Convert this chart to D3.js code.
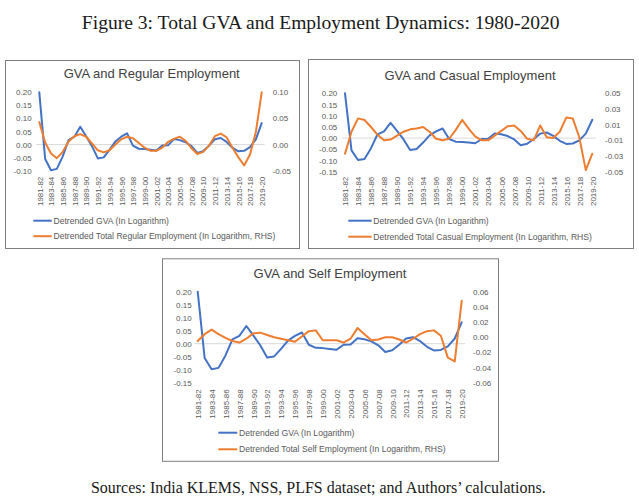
<!DOCTYPE html>
<html>
<head>
<meta charset="utf-8">
<script src="https://cdn.jsdelivr.net/npm/d3@7"></script>
<style>
  html, body { margin: 0; padding: 0; background: #ffffff; }
  svg { display: block; }
</style>
</head>
<body>
<svg id="chart" width="639" height="497"></svg>
<script>
// ---------------- DATA ----------------
const years = ["1981-82","1982-83","1983-84","1984-85","1985-86","1986-87","1987-88","1988-89","1989-90","1990-91",
  "1991-92","1992-93","1993-94","1994-95","1995-96","1996-97","1997-98","1998-99","1999-00","2000-01",
  "2001-02","2002-03","2003-04","2004-05","2005-06","2006-07","2007-08","2008-09","2009-10","2010-11",
  "2011-12","2012-13","2013-14","2014-15","2015-16","2016-17","2017-18","2018-19","2019-20"];

const gva = [0.200, -0.055, -0.098, -0.093, -0.045, 0.017, 0.030, 0.068, 0.032, -0.006,
  -0.053, -0.049, -0.020, 0.012, 0.030, 0.043, -0.004, -0.016, -0.017, -0.020,
  -0.023, -0.004, -0.003, 0.021, 0.017, 0.009, -0.006, -0.032, -0.025, -0.004,
  0.020, 0.025, 0.010, -0.012, -0.026, -0.024, -0.010, 0.020, 0.082];

const regularEmp = [0.043, 0.004, -0.017, -0.026, -0.014, 0.006, 0.016, 0.020, 0.015, 0.002,
  -0.011, -0.015, -0.011, 0.000, 0.010, 0.015, 0.012, 0.003, -0.006, -0.012,
  -0.012, -0.006, 0.005, 0.011, 0.015, 0.007, -0.007, -0.018, -0.014, -0.002,
  0.016, 0.021, 0.014, -0.006, -0.024, -0.040, -0.019, 0.024, 0.100];

const casualEmp = [-0.027, 0.001, 0.018, 0.016, 0.007, -0.003, -0.010, -0.009, -0.004, 0.001,
  0.004, 0.005, 0.007, 0.001, -0.008, -0.010, -0.008, 0.003, 0.016, 0.005,
  -0.005, -0.010, -0.010, -0.004, 0.002, 0.008, 0.009, 0.002, -0.008, -0.010,
  0.009, -0.006, -0.007, 0.001, 0.019, 0.018, -0.006, -0.048, -0.027];

const selfEmp = [-0.005, 0.004, 0.010, 0.004, -0.001, -0.005, -0.007, -0.002, 0.005, 0.006,
  0.003, 0.000, -0.002, -0.004, -0.006, 0.001, 0.008, 0.009, -0.004, -0.004,
  -0.004, -0.007, -0.002, 0.012, 0.004, -0.004, -0.003, 0.000, 0.000, -0.003,
  -0.007, -0.002, 0.004, 0.008, 0.009, 0.002, -0.027, -0.032, 0.048];

const leftTicks1 = [0.20, 0.15, 0.10, 0.05, 0.00, -0.05, -0.10];
const rightTicks1 = [0.10, 0.05, 0.00, -0.05];
const leftTicks23 = [0.20, 0.15, 0.10, 0.05, 0.00, -0.05, -0.10, -0.15];
const rightTicks2 = [0.05, 0.03, 0.01, -0.01, -0.03, -0.05];
const rightTicks3 = [0.06, 0.04, 0.02, 0.00, -0.02, -0.04, -0.06];

const panelTitles = ["GVA and Regular Employment", "GVA and Casual Employment", "GVA and Self Employment"];
const legendGva = "Detrended GVA (In Logarithm)";
const legendEmp = ["Detrended Total Regular Employment (In Logarithm, RHS)",
  "Detrended Total Casual Employment (In Logarithm, RHS)",
  "Detrended Total Self Employment (In Logarithm, RHS)"];
const figureTitle = "Figure 3: Total GVA and Employment Dynamics: 1980-2020";
const sourceText = "Sources: India KLEMS, NSS, PLFS dataset; and Authors\u2019 calculations.";

// ---------------- STYLE ----------------
const BLUE = "#4472C4", ORANGE = "#ED7D31";
const SANS = "'Liberation Sans', Arial, Helvetica, sans-serif";
const SERIF = "'Liberation Serif', 'Times New Roman', serif";
const fmt = d3.formatLocale({decimal: ".", thousands: ",", grouping: [3], currency: ["", ""], minus: "-"}).format(".2f");

const svg = d3.select("#chart");

function fitText(sel, target) {
  const w = sel.node().getComputedTextLength();
  const fs = parseFloat(sel.attr("font-size"));
  if (w > 0) sel.attr("font-size", (fs * target / w).toFixed(2));
}

const t = svg.append("text").attr("x", 320.7).attr("y", 29).attr("text-anchor", "middle")
  .attr("font-family", SERIF).attr("font-size", 17).attr("fill", "#1a1a1a").text(figureTitle);
fitText(t, 478);

const s = svg.append("text").attr("x", 318.3).attr("y", 493).attr("text-anchor", "middle")
  .attr("font-family", SERIF).attr("font-size", 15).attr("fill", "#1a1a1a").text(sourceText);
fitText(s, 455);

// ---------------- PANELS ----------------
const panels = [
  { box: [5, 60, 294, 188], xr: [39.3, 261.7], yr: [170.7, 92.3],
    left: [-0.10, 0.20], right: [-0.05, 0.10], lt: leftTicks1, rt: rightTicks1,
    lx: 31.7, rx: 272.7, labTop: 176.7, title: [151.7, 77.8],
    leg: [33.3, 51.7, 53.5], legY: [220.7, 236.2], emp: regularEmp },
  { box: [308, 59, 325, 189], xr: [345, 592.3], yr: [171.7, 93.3],
    left: [-0.15, 0.20], right: [-0.05, 0.05], lt: leftTicks23, rt: rightTicks2,
    lx: 337.3, rx: 605, labTop: 176.7, title: [470, 79.5],
    leg: [348.3, 371.7, 373.3], legY: [220.7, 236.7], emp: casualEmp },
  { box: [162, 258.3, 336, 202.5], xr: [197.7, 461.7], yr: [382.7, 291.7],
    left: [-0.15, 0.20], right: [-0.06, 0.06], lt: leftTicks23, rt: rightTicks3,
    lx: 191.7, rx: 473, labTop: 389.3, title: [330, 277.8],
    leg: [218.3, 237.3, 239], legY: [432.7, 449.3], emp: selfEmp }
];

panels.forEach((p, k) => {
  const g = svg.append("g");
  g.append("rect").attr("x", p.box[0] + 0.5).attr("y", p.box[1] + 0.5)
    .attr("width", p.box[2]).attr("height", p.box[3])
    .attr("fill", "#fff").attr("stroke", "#7f7f7f").attr("stroke-width", 1);

  const x = d3.scalePoint().domain(years).range(p.xr);
  const yL = d3.scaleLinear().domain(p.left).range(p.yr);
  const yR = d3.scaleLinear().domain(p.right).range(p.yr);
  const half = x.step() / 2;

  // zero line
  g.append("line").attr("x1", p.xr[0] - half).attr("x2", p.xr[1] + half)
    .attr("y1", yL(0)).attr("y2", yL(0)).attr("stroke", "#d9d9d9").attr("stroke-width", 1);

  // title
  g.append("text").attr("x", p.title[0]).attr("y", p.title[1]).attr("text-anchor", "middle")
    .attr("font-family", SANS).attr("font-size", 13).attr("fill", "#404040").text(panelTitles[k]);

  // left axis
  const ax = g.append("g").attr("transform", `translate(${p.lx},0)`)
    .call(d3.axisLeft(yL).tickValues(p.lt).tickFormat(fmt).tickSize(0).tickPadding(0));
  ax.select(".domain").remove();
  ax.selectAll("text").attr("font-family", SANS).attr("font-size", 8).attr("fill", "#595959");

  const axr = g.append("g").attr("transform", `translate(${p.rx},0)`)
    .call(d3.axisRight(yR).tickValues(p.rt).tickFormat(fmt).tickSize(0).tickPadding(0));
  axr.select(".domain").remove();
  axr.selectAll("text").attr("font-family", SANS).attr("font-size", 8).attr("fill", "#595959");

  // x axis
  const axb = g.append("g").attr("transform", `translate(0,${p.labTop})`)
    .call(d3.axisBottom(x).tickValues(years.filter((d, i) => i % 2 === 0)).tickSize(0));
  axb.select(".domain").remove();
  axb.selectAll("text").attr("transform", "rotate(-90)").attr("text-anchor", "end")
    .attr("x", 0).attr("y", 0).attr("dy", "0.35em")
    .attr("font-family", SANS).attr("font-size", 8).attr("fill", "#595959");

  // lines
  const lineL = d3.line().x((d, i) => x(years[i])).y(d => yL(d));
  const lineR = d3.line().x((d, i) => x(years[i])).y(d => yR(d));
  g.append("path").datum(gva).attr("d", lineL).attr("fill", "none")
    .attr("stroke", BLUE).attr("stroke-width", 2).attr("stroke-linejoin", "round").attr("stroke-linecap", "round");
  g.append("path").datum(p.emp).attr("d", lineR).attr("fill", "none")
    .attr("stroke", ORANGE).attr("stroke-width", 2).attr("stroke-linejoin", "round").attr("stroke-linecap", "round");

  // legend
  const items = [[legendGva, BLUE], [legendEmp[k], ORANGE]];
  items.forEach((it, j) => {
    g.append("line").attr("x1", p.leg[0]).attr("x2", p.leg[1])
      .attr("y1", p.legY[j]).attr("y2", p.legY[j]).attr("stroke", it[1]).attr("stroke-width", 2);
    g.append("text").attr("x", p.leg[2]).attr("y", p.legY[j]).attr("dy", "0.35em")
      .attr("font-family", SANS).attr("font-size", 8.6).attr("fill", "#595959").text(it[0]);
  });
});
</script>
</body>
</html>
